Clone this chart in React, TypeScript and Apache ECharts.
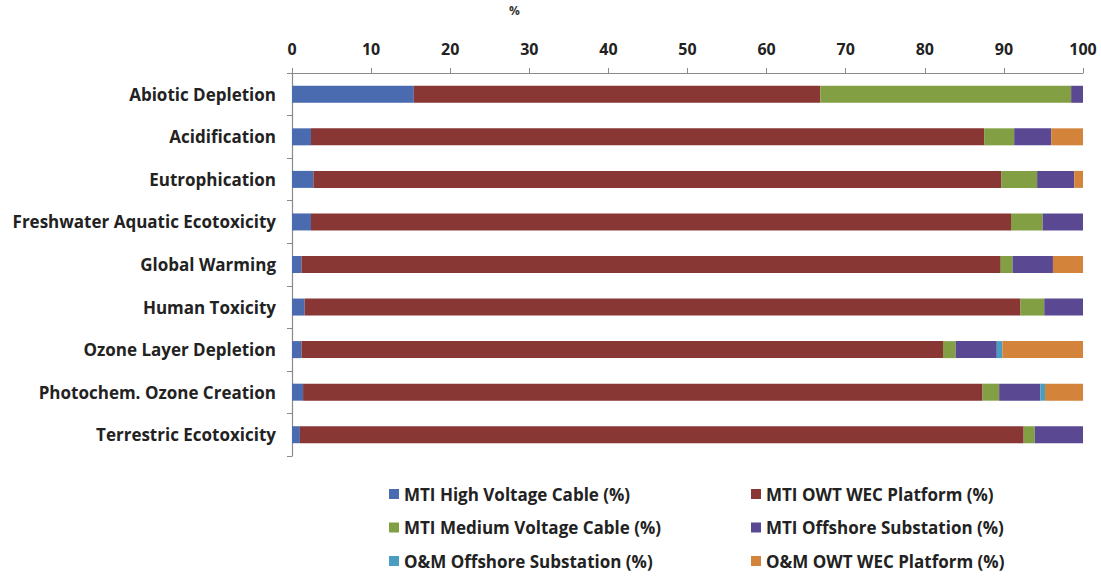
import React, { useEffect, useRef } from "react";
import * as echarts from "echarts";

const categories = [
  "Abiotic Depletion",
  "Acidification",
  "Eutrophication",
  "Freshwater Aquatic Ecotoxicity",
  "Global Warming",
  "Human Toxicity",
  "Ozone Layer Depletion",
  "Photochem. Ozone Creation",
  "Terrestric Ecotoxicity",
];

const xTicks = [0, 10, 20, 30, 40, 50, 60, 70, 80, 90, 100];

const mtiHighVoltage = [15.4, 2.4, 2.7, 2.4, 1.2, 1.6, 1.2, 1.4, 1.0];
const mtiOwtPlatform = [51.4, 85.1, 87.0, 88.5, 88.4, 90.5, 81.1, 85.9, 91.5];
const mtiMediumVoltage = [31.7, 3.8, 4.5, 4.0, 1.5, 3.0, 1.6, 2.1, 1.4];
const mtiOffshoreSub = [1.5, 4.7, 4.7, 5.1, 5.1, 4.9, 5.2, 5.2, 6.1];
const omOffshoreSub = [0, 0, 0, 0, 0, 0, 0.7, 0.6, 0];
const omOwtPlatform = [0, 4.0, 1.1, 0, 3.8, 0, 10.2, 4.8, 0];

const seriesDefs = [
  { name: "MTI High Voltage Cable (%)", data: mtiHighVoltage, color: "#4A6BB0" },
  { name: "MTI OWT WEC Platform (%)", data: mtiOwtPlatform, color: "#883734" },
  { name: "MTI Medium Voltage Cable (%)", data: mtiMediumVoltage, color: "#82A043" },
  { name: "MTI Offshore Substation (%)", data: mtiOffshoreSub, color: "#5A4893" },
  { name: "O&M Offshore Substation (%)", data: omOffshoreSub, color: "#4A9DC2" },
  { name: "O&M OWT WEC Platform (%)", data: omOwtPlatform, color: "#D3833A" },
];

const FONT = "Open Sans";

export default function App() {
  const ref = useRef<HTMLDivElement>(null);
  useEffect(() => {
    if (!ref.current) return;
    const chart = echarts.init(ref.current, undefined, { renderer: "svg" });
    const legendText = {
      fontFamily: FONT,
      fontWeight: "bold",
      fontSize: 17,
      lineHeight: 18,
      color: "#222",
    };
    chart.setOption({
      animation: false,
      backgroundColor: "#fff",
      grid: { left: 292, right: 18, top: 73, bottom: 122, containLabel: false },
      xAxis: {
        type: "value",
        position: "top",
        min: 0,
        max: 100,
        interval: 10,
        axisLine: { show: true, lineStyle: { color: "#8a8a8a", width: 1.2 } },
        axisTick: { show: true, inside: false, length: 5, lineStyle: { color: "#8a8a8a" } },
        splitLine: { show: false },
        axisLabel: {
          formatter: (v: number) => (xTicks.includes(v) ? String(v) : ""),
          fontFamily: FONT,
          fontWeight: "bold",
          fontSize: 16,
          color: "#222",
          margin: 16,
        },
      },
      yAxis: {
        type: "category",
        inverse: true,
        data: categories,
        axisLine: { show: true, lineStyle: { color: "#8a8a8a", width: 1.2 } },
        axisTick: { show: true, length: 5, alignWithLabel: false, lineStyle: { color: "#8a8a8a" } },
        axisLabel: {
          fontFamily: FONT,
          fontWeight: "bold",
          fontSize: 17,
          color: "#222",
          margin: 16,
        },
      },
      legend: [
        {
          data: [seriesDefs[0].name, seriesDefs[2].name, seriesDefs[4].name],
          orient: "vertical",
          left: 384,
          top: 480,
          itemWidth: 10,
          itemHeight: 10,
          itemGap: 15.5,
          icon: "rect",
          textStyle: legendText,
          selectedMode: false,
        },
        {
          data: [seriesDefs[1].name, seriesDefs[3].name, seriesDefs[5].name],
          orient: "vertical",
          left: 746,
          top: 480,
          itemWidth: 10,
          itemHeight: 10,
          itemGap: 15.5,
          icon: "rect",
          textStyle: legendText,
          selectedMode: false,
        },
      ],
      graphic: [
        {
          type: "text",
          left: 509,
          top: 4,
          style: { text: "%", fontFamily: FONT, fontWeight: "bold", fontSize: 12, fill: "#333" },
        },
      ],
      series: seriesDefs.map((s) => ({
        name: s.name,
        type: "bar",
        stack: "total",
        data: s.data,
        barWidth: 17,
        itemStyle: { color: s.color },
        emphasis: { disabled: true },
      })),
    });
    return () => chart.dispose();
  }, []);
  return (
    <div
      ref={ref}
      style={{ position: "absolute", left: 0, top: 0, width: 1101, height: 578 }}
    />
  );
}
